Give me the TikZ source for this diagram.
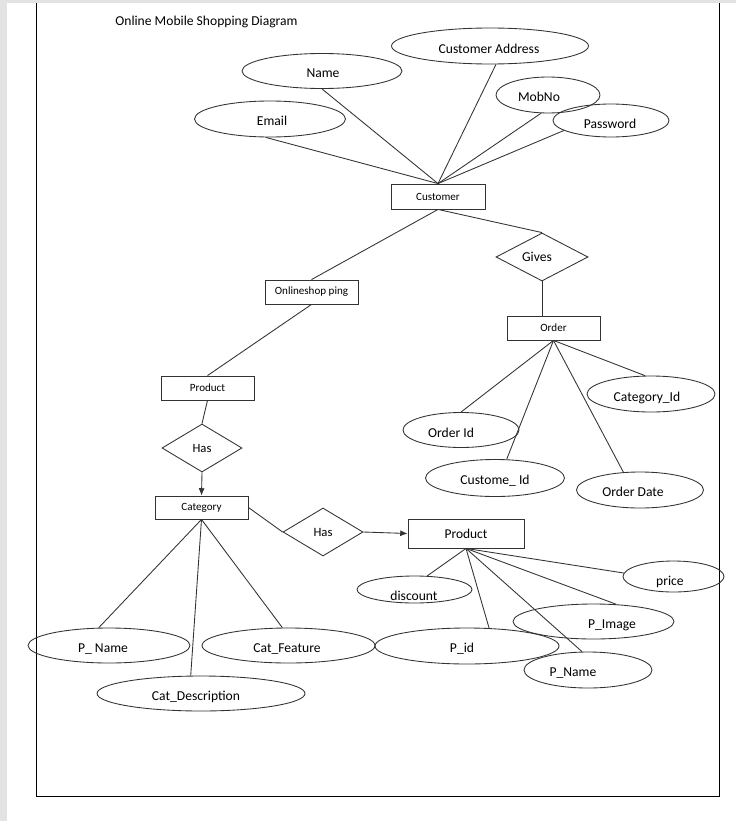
\documentclass[tikz,border=0pt]{standalone}
\usepackage{fontspec}
\setmainfont{Carlito}
\usetikzlibrary{shapes.geometric,arrows.meta}
\begin{document}
\begin{tikzpicture}[x=0.75pt,y=-0.75pt,
 con/.style={draw=black!80,line width=0.65pt},
 attr/.style={ellipse,draw=black!80,line width=0.65pt,inner sep=0pt},
 ent/.style={rectangle,draw=black!80,line width=0.65pt,inner sep=0pt,font=\fontsize{8.3}{10}\selectfont},
 rel/.style={diamond,draw=black!80,line width=0.65pt,inner sep=0pt},
 lbl/.style={inner sep=0pt,yshift=-1.2pt,font=\fontsize{10.2}{12}\selectfont,text height=0.7em,text depth=0.2em},
 arr/.style={con,-{Latex[length=5.5pt,width=4.5pt]}}]
\useasboundingbox (0,0) rectangle (736,821);
\fill[white] (0,0) rectangle (736,821);
\fill[gray!22] (0,0) rectangle (7,821);
\fill[gray!22] (0,0) rectangle (736,3);
\draw[line width=0.75pt] (36,3) -- (36,796) -- (719,796) -- (719,3);

\node[lbl] (title) at (206.5,21) {Online Mobile Shopping Diagram};

% Customer and attributes
\node[ent,minimum width=70.5pt,minimum height=18.75pt] (cust) at (438,196.5) {Customer};
\node[attr,minimum width=120pt,minimum height=26.25pt] (name) at (322,71) {};
\node[lbl] at (323,73) {Name};
\node[attr,minimum width=113.25pt,minimum height=27pt] (email) at (270,119) {};
\node[lbl] at (272,121) {Email};
\node[attr,minimum width=147.75pt,minimum height=27pt] (addr) at (490,46) {};
\node[lbl] at (489,49) {Customer Address};
\node[attr,minimum width=78pt,minimum height=27pt] (mob) at (548,95) {};
\node[lbl] at (539,97) {MobNo};
\node[attr,minimum width=87pt,minimum height=24.75pt] (pass) at (611,120.5) {};
\node[lbl] at (610,124) {Password};

\draw[con] (name.270) -- (cust.north);
\draw[con] (email.257) -- (cust.north);
\draw[con] (addr.288) -- (cust.north);
\draw[con] (mob.249) -- (cust.north);
\draw[con] (pass.192) -- (cust.north);

% Gives / Order
\node[rel,minimum width=69pt,minimum height=36pt] (gives) at (542,257) {};
\node[lbl] at (537,257) {Gives};
\node[ent,minimum width=69.75pt,minimum height=18pt] (order) at (553.5,328) {Order};
\draw[con] (cust.south) -- (gives.north);
\draw[con] (gives.south) -- (gives.south |- order.north);

\node[attr,minimum width=87pt,minimum height=26.25pt] (oid) at (461,430) {};
\node[lbl] at (451,433) {Order Id};
\node[attr,minimum width=104.25pt,minimum height=27.75pt] (cid) at (495,478) {};
\node[lbl] at (495,480) {Custome\_ Id};
\node[attr,minimum width=95.25pt,minimum height=27pt] (odate) at (640,490) {};
\node[lbl] at (633,492) {Order Date};
\node[attr,minimum width=96pt,minimum height=27pt] (catid) at (651,394) {};
\node[lbl] at (647,397) {Category\_Id};
\draw[con] (order.south) -- (oid.north);
\draw[con] (order.south) -- (cid.58);
\draw[con] (order.south) -- (odate.133);
\draw[con] (order.south) -- (catid.108);

% Onlineshopping / Product / Category
\node[ent,minimum width=69.75pt,minimum height=18pt] (shop) at (311.5,292) {Onlineshop ping};
\node[ent,minimum width=69.75pt,minimum height=18pt] (prod) at (207.5,388) {Product};
\node[rel,minimum width=60pt,minimum height=36pt] (has) at (202,448) {};
\node[lbl,font=\fontsize{9.5}{11}\selectfont] at (202,448) {Has};
\node[ent,minimum width=69.75pt,minimum height=17.25pt] (cat) at (201.5,507.5) {Category};
\draw[con] (cust.south) -- (shop.north);
\draw[con] (shop.south) -- (prod.north);
\draw[con] (prod.south) -- (has.north);
\draw[arr] (has.south) -- (cat.north);

\node[rel,minimum width=60pt,minimum height=36pt] (has2) at (323,532) {};
\node[lbl,font=\fontsize{9.5}{11}\selectfont] at (323,532) {Has};
\node[ent,minimum width=87pt,minimum height=21.75pt,font=\fontsize{10.1}{12}\selectfont] (prod2) at (466,533.5) {Product};
\draw[con] (cat.east) -- (has2.west);
\draw[arr] (has2.east) -- (prod2.west);

% Category attributes
\node[attr,minimum width=121.5pt,minimum height=26.25pt] (pname) at (109,645.5) {};
\node[lbl] at (103,648) {P\_ Name};
\node[attr,minimum width=129.75pt,minimum height=26.25pt] (catf) at (288.5,645.5) {};
\node[lbl] at (287,648) {Cat\_Feature};
\node[attr,minimum width=156pt,minimum height=26.25pt] (catd) at (201,693.5) {};
\node[lbl] at (196,696) {Cat\_Description};
\draw[con] (cat.south) -- (pname.120);
\draw[con] (cat.south) -- (catf.109);
\draw[con] (cat.south) -- (catd.120);

% Product attributes
\node[attr,minimum width=86.25pt,minimum height=20.25pt] (disc) at (414.5,589.5) {};
\node[lbl] at (414,596) {discount};
\node[attr,minimum width=75.75pt,minimum height=23.25pt] (price) at (673.5,576.5) {};
\node[lbl] at (670,581) {price};
\node[attr,minimum width=120.75pt,minimum height=26.25pt] (pimg) at (593.5,621.5) {};
\node[lbl] at (612,624) {P\_Image};
\node[attr,minimum width=138pt,minimum height=27pt] (pid) at (467,646) {};
\node[lbl] at (462,648) {P\_id};
\node[attr,minimum width=96pt,minimum height=27pt] (pname2) at (588,670) {};
\node[lbl] at (573,672) {P\_Name};
\draw[con] (prod2.south) -- (disc.47);
\draw[con] (prod2.south) -- (price.176);
\draw[con] (prod2.south) -- (pimg.37);
\draw[con] (prod2.south) -- (pid.39);
\draw[con] (prod2.south) -- (pname2.108);
\end{tikzpicture}
\end{document}
